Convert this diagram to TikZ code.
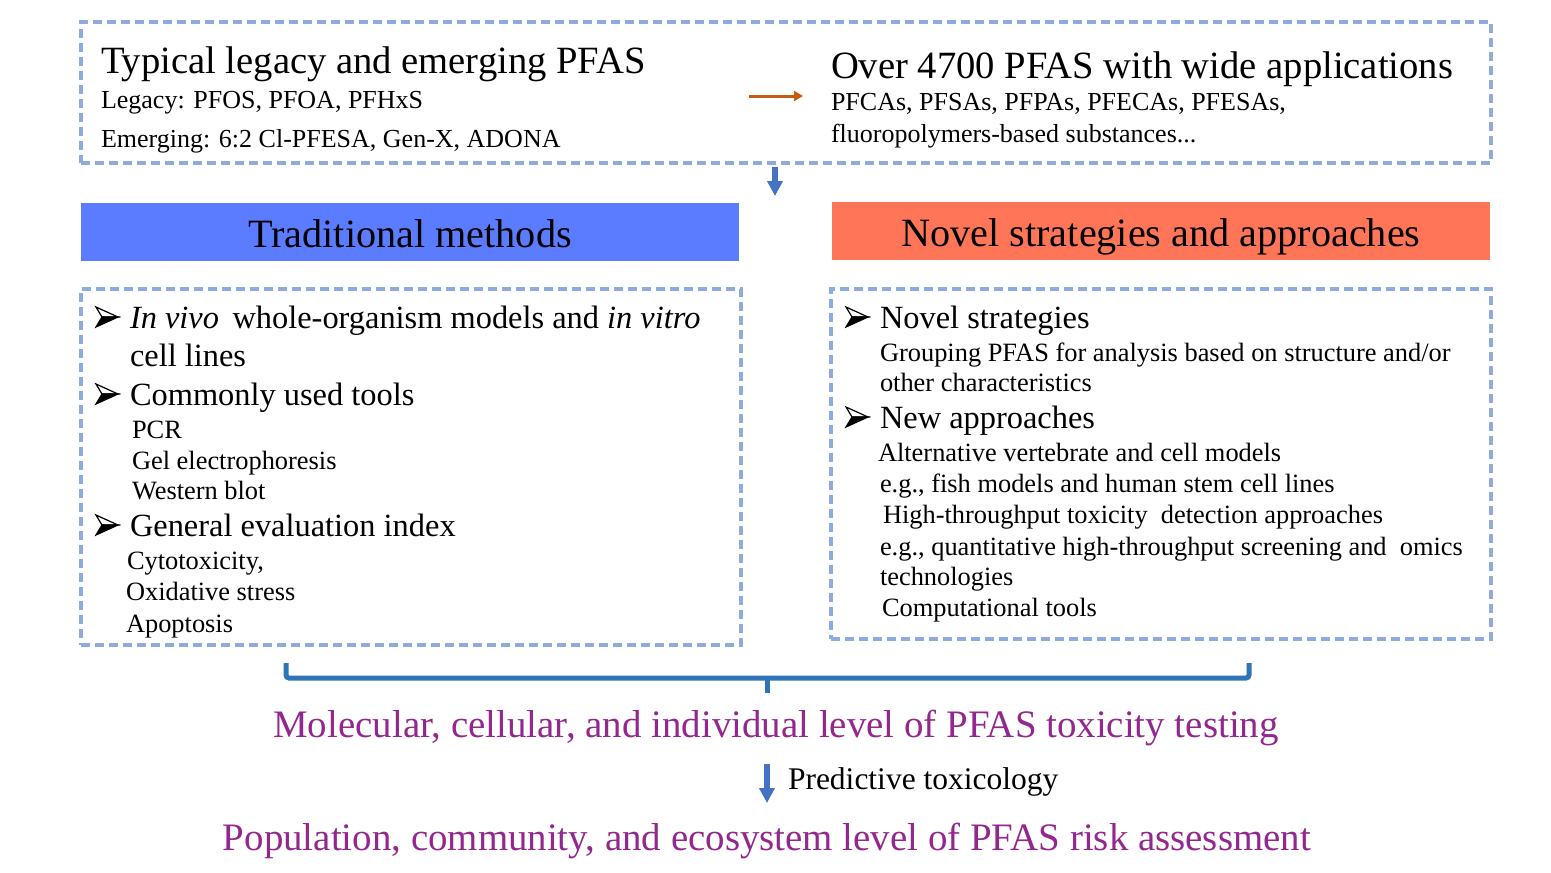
\documentclass[tikz,border=0pt]{standalone}
\usepackage{fontspec}
\setmainfont{Liberation Serif}
\usetikzlibrary{arrows.meta}
\definecolor{dashblue}{HTML}{8FAADC}
\definecolor{hblue}{HTML}{5B7CFF}
\definecolor{horange}{HTML}{FF7558}
\definecolor{arrblue}{HTML}{4472C4}
\definecolor{brblue}{HTML}{2E75B6}
\definecolor{arrorange}{HTML}{C55A11}
\definecolor{purp}{HTML}{93278F}
\tikzset{
  dbox/.style={draw=dashblue, line width=3.2pt, dash pattern=on 9pt off 5pt, inner sep=0pt},
  txt/.style={anchor=base west, inner sep=0pt, outer sep=0pt},
  fbig/.style={font=\fontsize{38.6}{42}\selectfont},
  fmid/.style={font=\fontsize{32.4}{36}\selectfont},
  fsml/.style={font=\fontsize{26}{29}\selectfont},
  ftiny/.style={font=\fontsize{26.4}{29}\selectfont},
  hdr/.style={inner sep=0pt, minimum width=658pt, minimum height=58pt},
  hdrtxt/.style={anchor=base, inner sep=0pt, font=\fontsize{40.2}{44}\selectfont},
  purptxt/.style={anchor=base, inner sep=0pt, text=purp, font=\fontsize{38.9}{42}\selectfont},
  barrow/.style={draw=arrblue, line width=5.5pt, -{Triangle[length=15pt,width=15pt]}},
  bulletarrow/.pic={
    \draw[line width=1.2pt, line join=miter] (-11,-10) -- (11,0) -- (-5,0) -- cycle;
    \fill (-5,0) -- (11,0) -- (-11,10) -- cycle;
    \draw[line width=1.2pt] (-5,0) -- (11,0) -- (-11,10) -- cycle;
  }
}
\begin{document}
\begin{tikzpicture}[x=1pt,y=-1pt]
\useasboundingbox[fill=white] (0,0) rectangle (1551,873);

% top box
\node[dbox, minimum width=1410pt, minimum height=141pt] (top) at (786,92.5) {};
\node[txt, fbig] (typ) at (101,73) {Typical legacy and emerging PFAS};
\node[txt, fsml] (leg) at (101,108) {Legacy: PFOS, PFOA, PFHxS};
\node[txt, fsml] (emg) at (101,147) {Emerging: 6:2 Cl-PFESA, Gen-X, ADONA};
\node[txt, fbig] (over) at (831,78) {Over 4700 PFAS with wide applications};
\node[txt, fsml] (pfc) at (831,110) {PFCAs, PFSAs, PFPAs, PFECAs, PFESAs,};
\node[txt, fsml] (flu) at (831,142) {fluoropolymers-based substances...};
\coordinate (oa1) at (749,96);
\coordinate (oa2) at (803,96);
\draw[draw=arrorange, line width=3pt, -{Triangle[length=9pt,width=10pt]}] (oa1) -- (oa2);

\coordinate (ba1) at (775,167);
\coordinate (ba2) at (775,196);
\draw[barrow] (ba1) -- (ba2);

% headers
\node[hdr, fill=hblue] (trad) at (410,232) {};
\node[hdrtxt] (tradt) at (410,247) {Traditional methods};
\node[hdr, fill=horange] (novel) at (1161,231) {};
\node[hdrtxt] (novelt) at (1161,246) {Novel strategies and approaches};

% left box
\node[dbox, minimum width=660pt, minimum height=356pt] (lbox) at (411,467) {};
\pic at (107,317) {bulletarrow};
\node[txt, fmid] (l1) at (130,328) {\textit{In vivo}\, whole-organism models and \textit{in vitro}};
\node[txt, fmid] (l2) at (130,366) {cell lines};
\pic at (107,394) {bulletarrow};
\node[txt, fmid] (l3) at (130,405) {Commonly used tools};
\node[txt, ftiny] (l4) at (132,438) {PCR};
\node[txt, ftiny] (l5) at (132,469) {Gel electrophoresis};
\node[txt, ftiny] (l6) at (132,499) {Western blot};
\pic at (107,525) {bulletarrow};
\node[txt, fmid] (l7) at (130,536) {General evaluation index};
\node[txt, ftiny] (l8) at (127,569) {Cytotoxicity,};
\node[txt, ftiny] (l9) at (126,600) {Oxidative stress};
\node[txt, ftiny] (l10) at (126,632) {Apoptosis};

% right box
\node[dbox, minimum width=660pt, minimum height=350pt] (rbox) at (1161,464) {};
\pic at (857,317) {bulletarrow};
\node[txt, fmid] (r1) at (880,328) {Novel strategies};
\node[txt, ftiny] (r2) at (880,361) {Grouping PFAS for analysis based on structure and/or};
\node[txt, ftiny] (r3) at (880,391) {other characteristics};
\pic at (857,417) {bulletarrow};
\node[txt, fmid] (r4) at (880,428) {New approaches};
\node[txt, ftiny] (r5) at (878,461) {Alternative vertebrate and cell models};
\node[txt, ftiny] (r6) at (880,492) {e.g., fish models and human stem cell lines};
\node[txt, ftiny] (r7) at (883,523) {High-throughput toxicity\ \ detection approaches};
\node[txt, ftiny] (r8) at (880,555) {e.g., quantitative high-throughput screening and\ \ omics};
\node[txt, ftiny] (r9) at (880,585) {technologies};
\node[txt, ftiny] (r10) at (882,616) {Computational tools};

% bracket
\coordinate (bl) at (286,663);
\coordinate (br) at (1249,663);
\coordinate (bm) at (767,678);
\coordinate (bt) at (767,693);
\draw[brblue, line width=5pt, rounded corners=3pt] (bl) -- (286,678) -- (1249,678) -- (br);
\draw[brblue, line width=5pt] (bm) -- (bt);

% bottom texts
\node[purptxt] (mol) at (776,737) {Molecular, cellular, and individual level of PFAS toxicity testing};
\coordinate (pa1) at (767,764);
\coordinate (pa2) at (767,803);
\draw[barrow] (pa1) -- (pa2);
\node[txt, font=\fontsize{31.5}{34}\selectfont] (pred) at (788,789) {Predictive toxicology};
\node[purptxt] (pop) at (767,850) {Population, community, and ecosystem level of PFAS risk assessment};
\end{tikzpicture}
\end{document}
